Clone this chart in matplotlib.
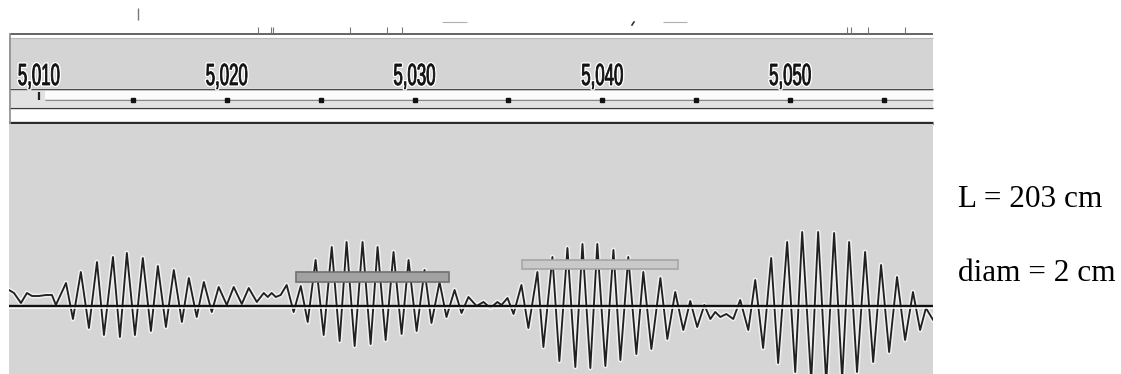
import matplotlib
matplotlib.use("Agg")
import matplotlib.pyplot as plt
import matplotlib.patheffects as pe
from matplotlib.patheffects import AbstractPathEffect
from matplotlib.transforms import Affine2D
from matplotlib.patches import Rectangle

# waveform extrema (time in s, amplitude in screen units)
lead_t = [5.00840, 5.00867, 5.00904, 5.00936, 5.00963, 5.01000, 5.01037, 5.01069, 5.01090]
lead_a = [16, 13, 3, 13, 10, 10, 11, 11, 1]

burst1_t = [5.01144, 5.01181, 5.01223, 5.01266, 5.01309, 5.01346, 5.01394, 5.01431,
            5.01468, 5.01511, 5.01553, 5.01596, 5.01633, 5.01676, 5.01718, 5.01761,
            5.01798, 5.01840, 5.01878, 5.01920, 5.01957, 5.02000, 5.02037, 5.02080,
            5.02117, 5.02160, 5.02197, 5.02218, 5.02239, 5.02261, 5.02287]
burst1_a = [23, -13, 34, -22, 44, -29, 49, -31, 53, -29, 48, -25, 40, -21, 36, -16,
            28, -11, 24, -6, 19, 1, 19, 2, 18, 4, 13, 9, 13, 9, 11]

burst2_t = [5.02319, 5.02356, 5.02394, 5.02431, 5.02473, 5.02516, 5.02559, 5.02601,
            5.02638, 5.02681, 5.02723, 5.02766, 5.02803, 5.02846, 5.02888, 5.02931,
            5.02968, 5.03011, 5.03053, 5.03090, 5.03133, 5.03170, 5.03213, 5.03250]
burst2_a = [21, -6, 20, -16, 46, -29, 59, -35, 64, -40, 64, -38, 59, -34, 54, -28,
            46, -25, 36, -17, 24, -11, 16, -7]

gap1_t = [5.03287, 5.03330, 5.03367, 5.03404, 5.03441, 5.03463, 5.03495, 5.03527]
gap1_a = [9, 0, 4, -2, 4, 1, 8, -8]

burst3_t = [5.03569, 5.03606, 5.03654, 5.03686, 5.03734, 5.03771, 5.03814, 5.03856,
            5.03894, 5.03936, 5.03973, 5.04016, 5.04059, 5.04096, 5.04138, 5.04181,
            5.04218, 5.04261, 5.04309, 5.04346, 5.04388, 5.04431, 5.04468, 5.04505,
            5.04543]
burst3_a = [21, -22, 34, -41, 49, -55, 58, -61, 62, -62, 62, -60, 56, -54, 49, -48,
            34, -43, 28, -33, 14, -24, 5, -21, 1]

gap2_t = [5.04575, 5.04601, 5.04628, 5.04660, 5.04697, 5.04734, 5.04777]
gap2_a = [-13, -6, -11, -8, -13, 6, -24]

burst4_t = [5.04814, 5.04856, 5.04899, 5.04936, 5.04984, 5.05027, 5.05064, 5.05112,
            5.05149, 5.05192, 5.05234, 5.05277, 5.05314, 5.05356, 5.05399, 5.05442,
            5.05484, 5.05527, 5.05569, 5.05612, 5.05654, 5.05692, 5.05723, 5.05761,
            5.05798]
burst4_a = [26, -42, 48, -57, 64, -66, 74, -75, 74, -77, 73, -73, 64, -66, 54, -56,
            41, -46, 29, -34, 14, -24, -2, -14, 5]

# label boxes drawn over the track
box_start = [5.02367, 5.03574]
box_end = [5.03181, 5.04404]
box_low = [24, 37]
box_high = [34, 46]
box_fill = ["#a2a2a2", "#c9c9c9"]
box_edge = ["#707070", "#a6a6a6"]

# ruler
ruler_ticks = [5.010, 5.020, 5.030, 5.040, 5.050]
ruler_labels = ["5,010", "5,020", "5,030", "5,040", "5,050"]
minor_ticks = [5.015, 5.020, 5.025, 5.030, 5.035, 5.040, 5.045, 5.050, 5.055]

notes = ["L = 203 cm", "diam = 2 cm"]

t = lead_t + burst1_t + burst2_t + gap1_t + burst3_t + gap2_t + burst4_t
a = lead_a + burst1_a + burst2_a + gap1_a + burst3_a + gap2_a + burst4_a

W, H = 1121, 374
xlim = (5.008404, 5.057606)


class NarrowHalo(AbstractPathEffect):
    # squeeze glyphs sideways (narrow ruler font) and put a white halo round them
    def __init__(self, sx=0.55, halo=2.5):
        super().__init__()
        self.sx = sx
        self.halo = halo

    def draw_path(self, renderer, gc, tpath, affine, rgbFace=None):
        ext = tpath.get_extents()
        cx = (ext.x0 + ext.x1) / 2
        aff = Affine2D().translate(-cx, 0).scale(self.sx, 1).translate(cx, 0) + affine
        g = renderer.new_gc()
        g.copy_properties(gc)
        g.set_foreground("white")
        g.set_linewidth(self.halo)
        renderer.draw_path(g, tpath, aff, None)
        g.restore()
        renderer.draw_path(gc, tpath, aff, rgbFace)
        g = renderer.new_gc()
        g.copy_properties(gc)
        g.set_foreground("#111111")
        g.set_linewidth(0.6)
        renderer.draw_path(g, tpath, aff, None)
        g.restore()


fig = plt.figure(figsize=(W / 100, H / 100), dpi=100)

# window chrome, in pixel units
chrome = fig.add_axes([0, 0, 1, 1], zorder=0)
chrome.set_xlim(0, W)
chrome.set_ylim(H, 0)
chrome.axis("off")
chrome.add_patch(Rectangle((9, 38), 924, 50, color="#d4d4d4", lw=0))
chrome.hlines(38, 9, 933, color="#b8b8b8", lw=0.8)
chrome.add_patch(Rectangle((9, 89), 924, 18, color="#e2e2e2", lw=0))
chrome.add_patch(Rectangle((45, 91), 888, 8, color="#fbfbfb", lw=0))
chrome.hlines(99.5, 45, 933, color="#8a8a8a", lw=0.8)
chrome.hlines(33.5, 10, 933, color="#3a3a3a", lw=1.1)
chrome.hlines(88.5, 9, 933, color="#4a4a4a", lw=1.0)
chrome.hlines(108, 9, 933, color="#3a3a3a", lw=1.0)
chrome.hlines(122.5, 9, 933, color="#2a2a2a", lw=2.4)
chrome.vlines(9.5, 33, H, color="#8c8c8c", lw=1.2)
chrome.vlines(138, 8, 20, color="#777777", lw=1.0)
chrome.vlines([258, 271, 273, 350, 387, 402, 847, 851, 868, 905], 27, 33, color="#777777", lw=0.8)
chrome.hlines(22, 442, 467, color="#b0b0b0", lw=0.8)
chrome.hlines(22, 663, 687, color="#b0b0b0", lw=0.8)
chrome.plot([632, 634], [25, 22], color="#333333", lw=1.2)

# waveform track
ax = fig.add_axes([9 / W, 0, 924 / W, (H - 124) / H], zorder=1)
ax.set_facecolor("#d5d5d5")
ax.set_xlim(*xlim)
ax.set_ylim(-68, 182)
ax.set_xticks([])
ax.set_yticks([])
for s in ax.spines.values():
    s.set_visible(False)

ax.plot(t, a, color="#202020", lw=1.35, solid_joinstyle="round", zorder=2,
        path_effects=[pe.withStroke(linewidth=3.6, foreground="#f0f0f0")])
ax.axhline(-2, color="white", lw=1.2, zorder=3)
ax.axhline(0, color="#111111", lw=1.7, zorder=4)

for i in range(len(box_start)):
    ax.add_patch(Rectangle((box_start[i], box_low[i]), box_end[i] - box_start[i],
                           box_high[i] - box_low[i], facecolor=box_fill[i],
                           edgecolor=box_edge[i], lw=1.2, zorder=5))

# ruler labels and tick dots, on the time axis
ruler = fig.add_axes([9 / W, (H - 124) / H, 924 / W, 91 / H], zorder=2)
ruler.set_xlim(*xlim)
ruler.set_ylim(124, 33)
ruler.patch.set_alpha(0)
ruler.axis("off")
for x, lab in zip(ruler_ticks, ruler_labels):
    ruler.text(x, 85, lab, ha="center", va="baseline", fontsize=22,
               family="Liberation Sans", color="#111111",
               path_effects=[NarrowHalo(sx=0.55, halo=2.5)])
ruler.plot(minor_ticks, [99.5] * len(minor_ticks), ls="none", marker="s",
           ms=2.2, color="#111111")
ruler.vlines(ruler_ticks[0], 92, 100, color="#222222", lw=1.6)

# notes on the right
fig.text(958 / W, 1 - 207 / H, notes[0], fontsize=22.5, family="Liberation Serif",
         va="baseline", ha="left")
fig.text(958 / W, 1 - 281 / H, notes[1], fontsize=22.5, family="Liberation Serif",
         va="baseline", ha="left")

fig.savefig("out.png", dpi=100)
